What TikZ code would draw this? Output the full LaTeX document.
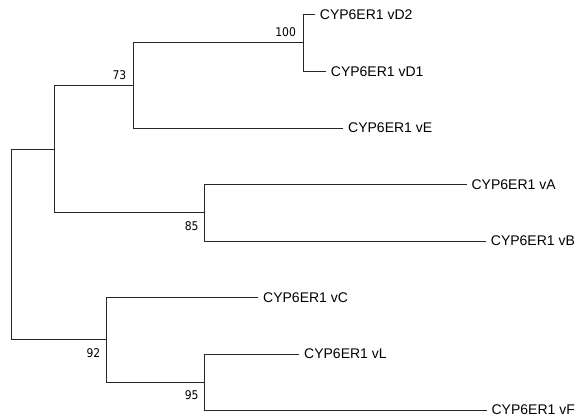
\documentclass[tikz,border=0pt]{standalone}
\usepackage{fontspec}
\setmainfont{Liberation Sans}
\newfontfamily\bootfont{DejaVu Sans Condensed}
\usetikzlibrary{positioning}

\begin{document}
\begin{tikzpicture}[x=1pt, y=-1pt, line width=0.8pt,
  leaf/.style={anchor=west, inner xsep=4.5pt, inner ysep=0pt, font=\fontsize{14}{16}\selectfont},
  boot/.style={inner sep=0pt, font=\bootfont\fontsize{12}{14}\selectfont},
  branch/.style={draw=black!85}]
\useasboundingbox (0,0) rectangle (581,419);

% Internal nodes (x = branch length from root, y = middle of the two children)
\coordinate (root) at (11.7, 244.7);
\coordinate (nDEAB) at (54, 149.7);
\coordinate (nDE) at (133.3, 85.9);
\coordinate (nD) at (303.3, 42.8);
\coordinate (nAB) at (204.7, 212.7);
\coordinate (nCLF) at (106.7, 339.8);
\coordinate (nLF) at (204.7, 382);

% Leaves
\node[leaf] (vD2) at (315, 14.3) {CYP6ER1 vD2};
\node[leaf] (vD1) at (326, 71.3) {CYP6ER1 vD1};
\node[leaf] (vE) at (343.3, 128) {CYP6ER1 vE};
\node[leaf] (vA) at (466.7, 184.3) {CYP6ER1 vA};
\node[leaf] (vB) at (486, 241) {CYP6ER1 vB};
\node[leaf] (vC) at (258.3, 297.7) {CYP6ER1 vC};
\node[leaf] (vL) at (299.3, 354) {CYP6ER1 vL};
\node[leaf] (vF) at (486.7, 410) {CYP6ER1 vF};

% Branches
\draw[branch] (root) |- (nDEAB);
\draw[branch] (root) |- (nCLF);
\draw[branch] (nDEAB) |- (nDE);
\draw[branch] (nDEAB) |- (nAB);
\draw[branch] (nDE) |- (nD);
\draw[branch] (nDE) |- (vE.west);
\draw[branch] (nD) |- (vD2.west);
\draw[branch] (nD) |- (vD1.west);
\draw[branch] (nAB) |- (vA.west);
\draw[branch] (nAB) |- (vB.west);
\draw[branch] (nCLF) |- (vC.west);
\draw[branch] (nCLF) |- (nLF);
\draw[branch] (nLF) |- (vL.west);
\draw[branch] (nLF) |- (vF.west);

% Bootstrap values
\node[boot, above left=6pt and 7pt of nD] (b100) {100};
\node[boot, above left=6pt and 6.6pt of nDE] (b73) {73};
\node[boot, below left=8pt and 5.7pt of nAB] (b85) {85};
\node[boot, below left=8.5pt and 6pt of nCLF] (b92) {92};
\node[boot, below left=8pt and 5.7pt of nLF] (b95) {95};
\end{tikzpicture}
\end{document}
